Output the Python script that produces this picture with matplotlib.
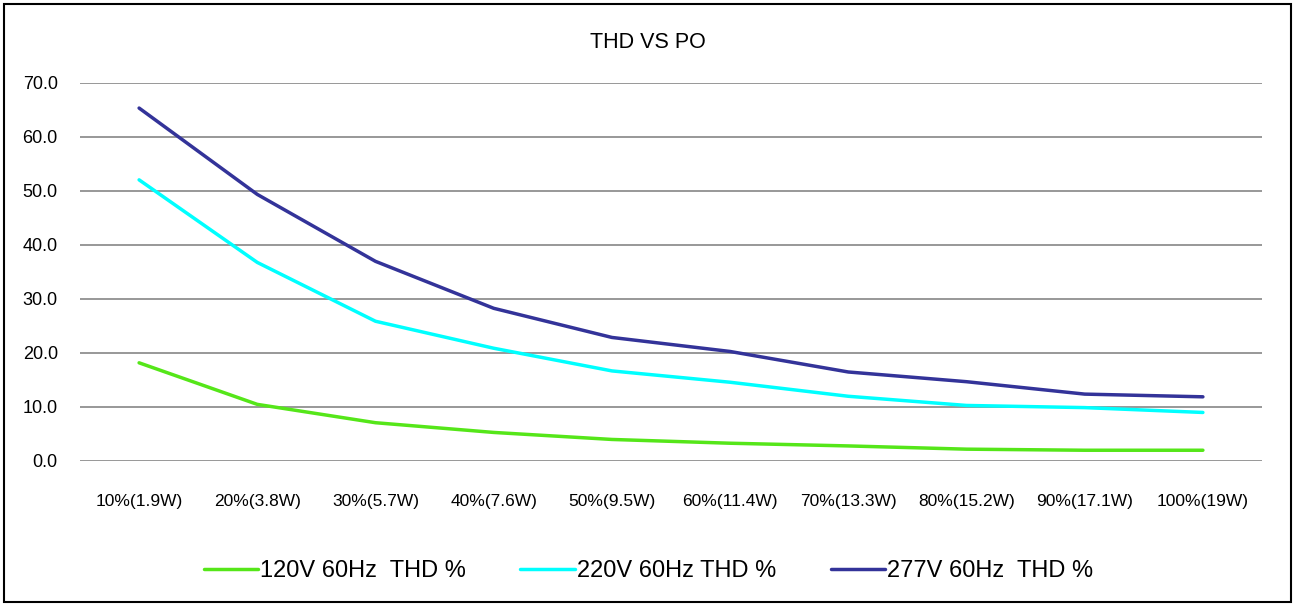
import matplotlib
matplotlib.use("Agg")
import matplotlib.pyplot as plt
from matplotlib.patches import Rectangle

plt.rcParams['font.family'] = ['Liberation Sans', 'DejaVu Sans']

categories = ["10%(1.9W)", "20%(3.8W)", "30%(5.7W)", "40%(7.6W)", "50%(9.5W)",
              "60%(11.4W)", "70%(13.3W)", "80%(15.2W)", "90%(17.1W)", "100%(19W)"]
thd_120v = [18.1, 10.4, 7.0, 5.2, 3.9, 3.2, 2.7, 2.1, 1.9, 1.9]
thd_220v = [52.0, 36.7, 25.8, 20.8, 16.6, 14.5, 11.9, 10.2, 9.8, 8.9]
thd_277v = [65.3, 49.3, 36.9, 28.2, 22.8, 20.2, 16.4, 14.6, 12.3, 11.8]
series_labels = ["120V 60Hz  THD %", "220V 60Hz THD %", "277V 60Hz  THD %"]
colors = ["#55E619", "#00FFFF", "#333399"]
title = "THD VS PO"

W, H = 1296, 606
fig = plt.figure(figsize=(W / 100, H / 100), dpi=100)
ax = fig.add_axes([80 / W, 1 - 460.5 / H, (1262 - 80) / W, (460.5 - 82.7) / H])

x = list(range(len(categories)))
for vals, lab, c in zip([thd_120v, thd_220v, thd_277v], series_labels, colors):
    ax.plot(x, vals, color=c, lw=2.5, label=lab, solid_capstyle='round', solid_joinstyle='round')

ax.set_xlim(-0.5, len(categories) - 0.5)
ax.set_ylim(0, 70)
ax.set_yticks(range(0, 71, 10))
ax.set_yticklabels([f"{v:.1f}" for v in range(0, 71, 10)], fontsize=13)
ax.set_xticks(x)
ax.set_xticklabels(categories, fontsize=12.5)
ax.tick_params(axis='y', length=0, pad=16)
ax.tick_params(axis='x', length=0, pad=24)
ax.grid(axis='y', color='#868686', lw=1.2)
ax.set_axisbelow(True)
for s in ax.spines.values():
    s.set_visible(False)

fig.text(0.5, 1 - 42 / H, title, ha='center', va='center', fontsize=15.5)

fig.legend(loc='center', bbox_to_anchor=(648.5 / W, 1 - 571 / H), ncol=3, frameon=False,
           fontsize=17, handlelength=2.3, handletextpad=0.1, columnspacing=2.3)

fig.patches.append(Rectangle((4 / W, 4 / H), (1291 - 4) / W, (602 - 4) / H, transform=fig.transFigure,
                             fill=False, edgecolor='black', lw=1.5))

fig.savefig("out.png", dpi=100)
